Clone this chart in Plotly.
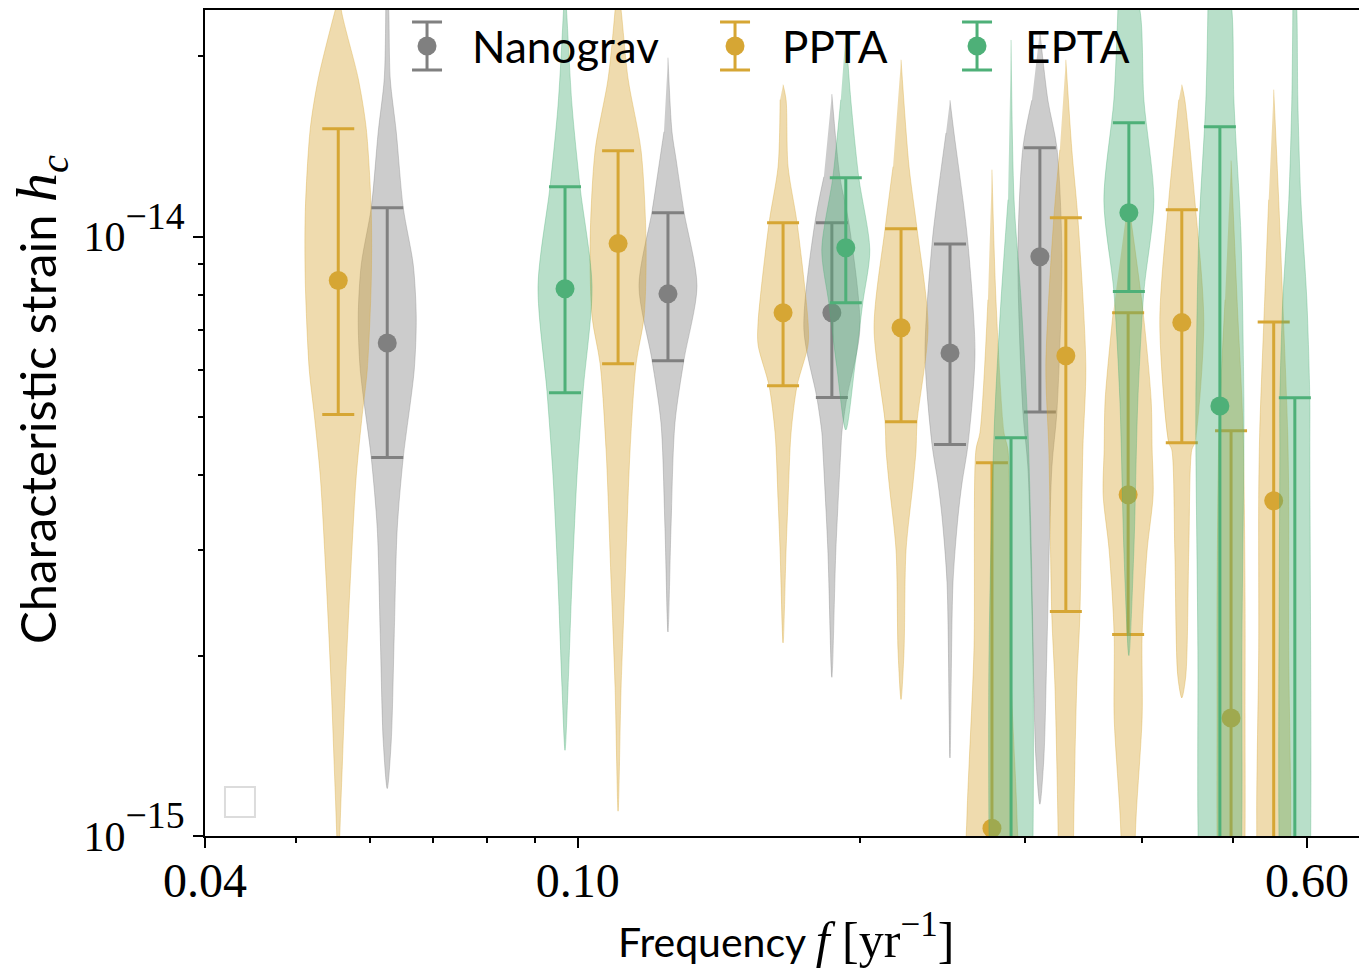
import numpy as np
import plotly.graph_objects as go

# ---------------- data (strain values in units of 1e-15) ----------------
SCALE = 1e-15

ng_freq = [0.0626, 0.1248, 0.1867, 0.2496, 0.3113]
ng_med = [6.65, 8.03, 7.47, 6.40, 9.26]
ng_hi = [11.18, 10.97, 10.55, 9.73, 14.08]
ng_lo = [4.28, 6.21, 5.39, 4.50, 5.10]
ng_prof_h = [
    [26.0, 23.9, 18.35, 14.97, 11.18, 8.98, 7.35, 6.0, 4.28, 3.26, 2.17, 1.44, 1.20],
    [19.9, 14.97, 13.5, 11.01, 8.28, 6.23, 4.89, 3.26, 2.19],
    [17.3, 12.59, 10.55, 7.0, 5.39, 4.71, 4.41, 3.0, 1.84],
    [16.9, 14.9, 11.5, 9.73, 6.40, 4.50, 3.88, 3.41, 2.65, 1.35],
    [22.0, 16.9, 14.08, 9.26, 5.10, 4.13, 2.04, 1.35, 1.13],
]
ng_prof_w = [
    [0, 1.5, 3, 9, 16, 26, 29, 27, 16, 10, 7, 4, 0],
    [0, 4, 8, 16, 29, 16, 7, 3, 0],
    [0, 8, 17, 28, 15, 10, 9, 4, 0],
    [0, 4, 13, 18, 25, 18, 12, 8, 3, 0],
    [0, 8, 17, 22, 17, 12, 7, 4, 0],
]

pp_freq = [0.0555, 0.1104, 0.1656, 0.2213, 0.2767, 0.3318, 0.3867, 0.4412, 0.498, 0.553]
pp_med = [8.45, 9.74, 7.47, 7.05, 1.03, 6.33, 3.71, 7.19, 1.574, 3.625]
pp_hi = [15.15, 13.92, 10.55, 10.31, 4.195, 10.76, 7.47, 11.09, 4.745, 7.21]
pp_lo = [5.05, 6.14, 5.64, 4.91, 0.3, 2.37, 2.17, 4.53, 0.3, 0.3]
pp_prof_h = [
    [27.0, 23.9, 18.35, 15.15, 11.0, 8.45, 6.0, 5.05, 3.99, 2.66, 1.77, 1.18, 0.9],
    [26.0, 23.9, 18.35, 13.92, 9.74, 7.35, 6.14, 4.41, 2.66, 1.77, 1.10],
    [17.94, 16.93, 13.09, 10.55, 7.2, 6.6, 5.64, 4.71, 3.64, 3.0, 2.10],
    [19.74, 13.09, 10.31, 7.05, 4.91, 4.41, 3.88, 3.0, 2.04, 1.69],
    [12.94, 7.85, 4.71, 4.41, 2.04, 1.08, 0.8, 0.5],
    [19.74, 13.97, 10.76, 6.07, 4.41, 2.32, 1.80, 1.08, 0.8, 0.5],
    [11.53, 7.47, 5.34, 4.41, 3.71, 3.0, 2.17, 1.58, 1.08, 0.8, 0.6],
    [17.94, 16.93, 11.53, 7.19, 4.53, 4.41, 3.0, 1.85, 1.70],
    [13.4, 7.85, 4.75, 2.48, 1.57, 1.0, 0.6, 0.4],
    [17.6, 11.53, 7.85, 4.71, 3.64, 2.04, 1.08, 0.7, 0.4],
]
pp_prof_w = [
    [0, 3, 20, 28, 33, 33, 29, 24, 18, 12, 7, 3, 0],
    [0, 3, 10, 23, 28, 26, 18, 12, 7, 3, 0],
    [0, 3, 5, 14, 25, 25, 14, 8, 5, 3, 0],
    [0, 8, 16, 27, 16, 15, 12, 5, 3, 0],
    [0, 4, 12, 16, 18, 25, 26, 0],
    [0, 6, 12, 20, 17, 14, 11, 8, 7, 0],
    [0, 15, 23, 24, 25, 19, 14, 14, 8, 5, 0],
    [0, 3, 13, 22, 13, 10, 7, 4, 0],
    [0, 6, 12, 14, 14, 14, 12, 0],
    [0, 5, 9, 14, 15, 15, 17, 15, 0],
]

ep_freq = [0.0969, 0.1932, 0.290, 0.3874, 0.4845, 0.5825]
ep_med = [8.19, 9.585, 0.85, 10.97, 5.22, 0.85]
ep_hi = [12.12, 12.55, 4.62, 15.5, 15.26, 5.385]
ep_lo = [5.49, 7.76, 0.3, 8.10, 0.3, 0.3]
ep_prof_h = [
    [26.0, 23.9, 16.55, 12.12, 8.28, 5.51, 3.99, 2.66, 1.77, 1.39],
    [22.0, 16.93, 12.55, 9.51, 7.76, 6.07, 4.76],
    [21.3, 11.53, 7.85, 4.71, 2.04, 1.0, 0.7, 0.4],
    [27.0, 23.9, 16.93, 11.5, 8.1, 5.34, 3.0, 2.0],
    [32.0, 23.9, 16.93, 10.15, 5.34, 4.41, 2.04, 1.08, 0.8, 0.5],
    [27.0, 23.9, 16.93, 11.53, 7.85, 5.34, 4.41, 1.08, 0.7, 0.4],
]
ep_prof_w = [
    [0, 1.5, 7, 15, 27, 18, 12, 7, 3, 0],
    [0, 5, 13, 24, 17, 9, 0],
    [0, 3, 10, 17, 22, 22, 20, 0],
    [0, 11, 15, 25, 15, 9, 5, 0],
    [0, 12, 14, 21, 24, 24, 22, 22, 20, 0],
    [0, 2, 3, 6, 12, 15, 15, 16, 14, 0],
]

names = ["Nanograv", "PPTA", "EPTA"]

# ---------------- styling ----------------
W_UNIT = 1.0 / 937.0          # violin half-width unit in decades of f
COLORS = {"Nanograv": (128, 128, 128), "PPTA": (214, 166, 52), "EPTA": (78, 176, 120)}
FILL_ALPHA = 0.4

datasets = {
    "Nanograv": (ng_freq, ng_med, ng_hi, ng_lo, ng_prof_h, ng_prof_w),
    "PPTA": (pp_freq, pp_med, pp_hi, pp_lo, pp_prof_h, pp_prof_w),
    "EPTA": (ep_freq, ep_med, ep_hi, ep_lo, ep_prof_h, ep_prof_w),
}

fig = go.Figure()

for name in names:
    freq, med, hi, lo, ph, pw = datasets[name]
    r, g, b = COLORS[name]
    fill = f"rgba({r},{g},{b},{FILL_ALPHA})"
    edge = f"rgba({r},{g},{b},0.35)"
    solid = f"rgb({r},{g},{b})"
    for f, hs, ws in zip(freq, ph, pw):
        hs = np.array(hs) * SCALE
        ws = np.array(ws, dtype=float) * W_UNIT
        xr = f * 10 ** ws
        xl = f * 10 ** (-ws[1:-1][::-1])
        xs = np.concatenate([xr, xl])
        ys = np.concatenate([hs, hs[1:-1][::-1]])
        fig.add_trace(go.Scatter(
            x=xs, y=ys, mode="lines", fill="toself", fillcolor=fill,
            line=dict(color=edge, width=1, shape="spline", smoothing=0.8),
            hoverinfo="skip", showlegend=False))
    med_a = np.array(med) * SCALE
    fig.add_trace(go.Scatter(
        x=freq, y=med_a, mode="markers", name=name,
        marker=dict(color=solid, size=19),
        error_y=dict(type="data", symmetric=False,
                     array=np.array(hi) * SCALE - med_a,
                     arrayminus=med_a - np.array(lo) * SCALE,
                     color=solid, thickness=3, width=16),
        showlegend=False))

# ---------------- custom legend (errorbar glyphs) ----------------
leg_x = [0.1924, 0.4593, 0.6690]
leg_tx = [0.2300, 0.4985, 0.7090]
leg_y = 0.9564
leg_dy = 0.029
for name, lx, tx in zip(names, leg_x, leg_tx):
    r, g, b = COLORS[name]
    solid = f"rgb({r},{g},{b})"
    fig.add_trace(go.Scatter(
        x=[lx], y=[leg_y], xaxis="x2", yaxis="y2", mode="markers",
        marker=dict(color=solid, size=19),
        error_y=dict(type="constant", value=leg_dy, color=solid, thickness=3, width=15),
        hoverinfo="skip", showlegend=False, cliponaxis=False))
    fig.add_annotation(x=tx, y=leg_y, xref="paper", yref="paper", text=name,
                       showarrow=False, xanchor="left", yanchor="middle",
                       font=dict(family="Lato", size=44, color="black"))

serif = "Liberation Serif"
fig.add_annotation(
    x=-0.143, y=0.529, xref="paper", yref="paper", textangle=-90,
    text=("Characteristic strain "
          f"<span style='font-family:{serif};font-size:58px'><i>h</i><sub><i>c</i></sub></span>"),
    showarrow=False, xanchor="center", yanchor="middle",
    font=dict(family="Lato", size=49, color="black"))
fig.add_annotation(
    x=0.5035, y=-0.122, xref="paper", yref="paper",
    text=("Frequency "
          f"<span style='font-family:{serif};font-size:50px'><i>f</i> [yr<sup>−1</sup>]</span>"),
    showarrow=False, xanchor="center", yanchor="middle",
    font=dict(family="Lato", size=41, color="black"))

# empty legend box artefact (bottom left)
fig.add_shape(type="rect", xref="paper", yref="paper", x0=0.0173, x1=0.0433, y0=0.023, y1=0.0593,
              line=dict(color="#dcdcdc", width=2), fillcolor="rgba(0,0,0,0)")

x_minor = [0.05, 0.06, 0.07, 0.08, 0.09, 0.2, 0.3, 0.4, 0.5]
y_minor = [2e-15, 3e-15, 4e-15, 5e-15, 6e-15, 7e-15, 8e-15, 9e-15, 2e-14]
y_ticktext = ["10<span style='font-size:54px'><sup>−15</sup></span>",
              "10<span style='font-size:54px'><sup>−14</sup></span>"]

fig.update_layout(
    width=1359, height=970,
    margin=dict(l=205, r=0, t=10, b=134),
    plot_bgcolor="white", paper_bgcolor="white",
    showlegend=False,
    xaxis=dict(type="log", range=[np.log10(0.04), np.log10(0.682)],
               tickvals=[0.04, 0.1, 0.6], ticktext=["0.04", "0.10", "0.60"],
               ticks="outside", ticklen=10, tickwidth=2, tickcolor="black",
               showline=True, linewidth=2, linecolor="black", mirror=True,
               showgrid=False, zeroline=False, ticklabelstandoff=-9,
               tickfont=dict(family=serif, size=48, color="black"),
               minor=dict(tickvals=x_minor, ticks="outside", ticklen=5, tickwidth=1.5,
                          tickcolor="black", showgrid=False)),
    yaxis=dict(type="log", range=[-15, np.log10(2.39e-14)],
               tickvals=[1e-15, 1e-14], ticktext=y_ticktext,
               ticks="outside", ticklen=10, tickwidth=2, tickcolor="black",
               showline=True, linewidth=2, linecolor="black",
               showgrid=False, zeroline=False,
               tickfont=dict(family=serif, size=42, color="black"),
               minor=dict(tickvals=y_minor, ticks="outside", ticklen=5, tickwidth=1.5,
                          tickcolor="black", showgrid=False)),
    xaxis2=dict(overlaying="x", range=[0, 1], visible=False, fixedrange=True),
    yaxis2=dict(overlaying="y", range=[0, 1], visible=False, fixedrange=True),
)

fig.write_html("out.html", config={"displayModeBar": False},
               post_script="document.body.style.margin='0';document.body.style.overflow='hidden';")
